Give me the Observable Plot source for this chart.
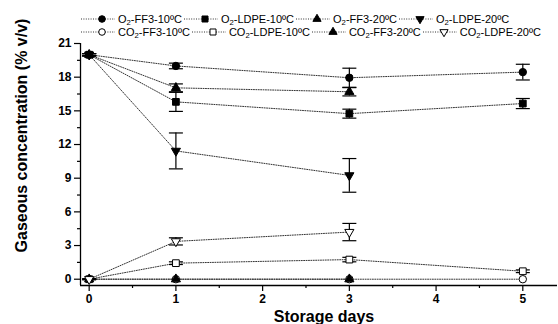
<!DOCTYPE html>
<html><head><meta charset="utf-8">
<script src="https://cdn.jsdelivr.net/npm/d3@7"></script>
<script src="https://cdn.jsdelivr.net/npm/@observablehq/plot@0.6"></script>
<style>
body{margin:0;background:#fff;}
#wrap{position:relative;width:558px;height:324px;font-family:"Liberation Sans",Arial,sans-serif;}
#legend{position:absolute;left:81px;top:12px;font-size:11px;color:#000;}
.row{display:flex;align-items:center;height:13px;white-space:nowrap;}
.item{display:flex;align-items:center;margin-right:2px;}
.item svg{margin-right:3px;overflow:visible}
sub{font-size:70%;vertical-align:-2px;line-height:0}
</style></head><body><div id="wrap"><div id="legend"></div></div>
<script>
// ---- data ----
const days10 = [0, 1, 3, 5];
const days20 = [0, 1, 3];
const seriesNames = ["O2-FF3-10ºC", "O2-LDPE-10ºC", "O2-FF3-20ºC", "O2-LDPE-20ºC",
                     "CO2-FF3-10ºC", "CO2-LDPE-10ºC", "CO2-FF3-20ºC", "CO2-LDPE-20ºC"];
const o2Ff3_10 = [20.0, 19.0, 17.95, 18.45];
const o2Ff3_10Err = [0.1, 0.25, 0.85, 0.7];
const o2Ldpe10 = [20.0, 15.8, 14.75, 15.65];
const o2Ldpe10Err = [0.1, 0.85, 0.4, 0.45];
const o2Ff3_20 = [20.0, 17.05, 16.7];
const o2Ff3_20Err = [0.1, 0.35, 0.37];
const o2Ldpe20 = [20.0, 11.43, 9.25];
const o2Ldpe20Err = [0.1, 1.6, 1.5];
const co2Ff3_10 = [0, 0, 0, 0];
const co2Ff3_10Err = [0, 0, 0, 0];
const co2Ldpe10 = [0, 1.43, 1.75, 0.71];
const co2Ldpe10Err = [0.03, 0.12, 0.2, 0.12];
const co2Ff3_20 = [0, 0, 0];
const co2Ff3_20Err = [0, 0, 0];
const co2Ldpe20 = [0, 3.37, 4.2];
const co2Ldpe20Err = [0.05, 0.32, 0.77];
const xTicks = [0, 1, 2, 3, 4, 5];
const yTicks = [0, 3, 6, 9, 12, 15, 18, 21];
const xLabel = "Storage days";
const yLabel = "Gaseous concentration (% v/v)";

// ---- styles ----
const seriesData = [
  [days10, o2Ff3_10, o2Ff3_10Err], [days10, o2Ldpe10, o2Ldpe10Err],
  [days20, o2Ff3_20, o2Ff3_20Err], [days20, o2Ldpe20, o2Ldpe20Err],
  [days10, co2Ff3_10, co2Ff3_10Err], [days10, co2Ldpe10, co2Ldpe10Err],
  [days20, co2Ff3_20, co2Ff3_20Err], [days20, co2Ldpe20, co2Ldpe20Err]
];
const styles = [
  {symbol: "circle", r: 3.7, rotate: 0, fill: "#000"},
  {symbol: "square", r: 3.8, rotate: 0, fill: "#000"},
  {symbol: "triangle", r: 3.4, rotate: 0, fill: "#000"},
  {symbol: "triangle", r: 3.4, rotate: 180, fill: "#000"},
  {symbol: "circle", r: 3.7, rotate: 0, fill: "#fff"},
  {symbol: "square", r: 3.8, rotate: 0, fill: "#fff"},
  {symbol: "triangle", r: 3.4, rotate: 0, fill: "#000"},
  {symbol: "triangle", r: 3.4, rotate: 180, fill: "#fff"}
];

const rows = [];
seriesNames.forEach((name, i) => {
  const [d, v, e] = seriesData[i];
  d.forEach((day, j) => rows.push({series: name, idx: i, day, value: v[j], err: e[j]}));
});
const errRows = rows.filter(r => r.err > 0);
const capRows = errRows.flatMap(r => [{day: r.day, v: r.value - r.err}, {day: r.day, v: r.value + r.err}]);
const capSymbol = {draw(ctx) { ctx.moveTo(-7, 0); ctx.lineTo(7, 0); }};

const xDomain = [-0.1, 5.4];
const yDomain = [-0.56, 21];
const lineStroke = "#333";

const marks = [
  Plot.ruleX([xDomain[0]], {stroke: "#000", strokeWidth: 1.3}),
  Plot.ruleY([yDomain[0]], {stroke: "#000", strokeWidth: 1.3}),
  Plot.axisY({ticks: yTicks, tickSize: 6, tickPadding: 3, fontSize: 12, fontWeight: "bold", label: null, strokeWidth: 1.2, tickFormat: d3.format("d")}),
  Plot.axisY({ticks: d3.range(1.5, 21, 3), tickSize: 3, tickFormat: () => "", label: null, strokeWidth: 1.2}),
  Plot.axisX({ticks: xTicks, tickSize: 6, tickPadding: 3, fontSize: 12, fontWeight: "bold", label: null, strokeWidth: 1.2, tickFormat: d3.format("d")}),
  Plot.axisX({ticks: d3.range(0.5, 5, 1), tickSize: 3, tickFormat: () => "", label: null, strokeWidth: 1.2}),
  Plot.text([xLabel], {frameAnchor: "bottom", dy: 31.4, dx: 5, textAnchor: "middle", lineAnchor: "middle", fontSize: 16, fontWeight: "bold", fill: "#000"}),
  Plot.text([yLabel], {frameAnchor: "left", dx: -58.5, dy: -29, rotate: -90, textAnchor: "middle", lineAnchor: "middle", fontSize: 16, fontWeight: "bold", fill: "#000"}),
  Plot.line(rows, {x: "day", y: "value", z: "series", stroke: lineStroke, strokeWidth: 1, strokeDasharray: "1,1.4"}),
  Plot.ruleX(errRows, {x: "day", y1: d => d.value - d.err, y2: d => d.value + d.err, stroke: "#000", strokeWidth: 1.2}),
  Plot.dot(capRows, {x: "day", y: "v", symbol: capSymbol, r: 1, fill: "none", stroke: "#000", strokeWidth: 1.2})
];
seriesNames.forEach((name, i) => {
  const s = styles[i];
  marks.push(Plot.dot(rows.filter(r => r.idx === i), {x: "day", y: "value", symbol: s.symbol, r: s.r, rotate: s.rotate, fill: s.fill, stroke: "#000", strokeWidth: 1}));
});

const chart = Plot.plot({
  width: 558, height: 324,
  marginLeft: 80, marginRight: 1, marginTop: 43, marginBottom: 39,
  style: {fontFamily: "'Liberation Sans', Arial, sans-serif", color: "#000", background: "#fff"},
  x: {domain: xDomain},
  y: {domain: yDomain},
  marks
});
document.getElementById("wrap").appendChild(chart);

// ---- legend ----
const legend = document.getElementById("legend");
const rowEls = [document.createElement("div"), document.createElement("div")];
rowEls.forEach(r => { r.className = "row"; legend.appendChild(r); });
const symMap = {circle: d3.symbolCircle, square: d3.symbolSquare, triangle: d3.symbolTriangle};
seriesNames.forEach((name, i) => {
  const s = styles[i];
  const item = document.createElement("div");
  item.className = "item";
  const path = d3.symbol(symMap[s.symbol], Math.PI * s.r * s.r * 0.8)();
  item.innerHTML = `<svg width="34" height="12"><line x1="0" x2="34" y1="6" y2="6" stroke="${lineStroke}" stroke-dasharray="1,1.4"/>` +
    `<path d="${path}" transform="translate(21,6) rotate(${s.rotate})" fill="${s.fill}" stroke="#000" stroke-width="1"/></svg>` +
    `<span>${name.replace("O2", "O<sub>2</sub>")}</span>`;
  rowEls[i < 4 ? 0 : 1].appendChild(item);
});
</script></body></html>
